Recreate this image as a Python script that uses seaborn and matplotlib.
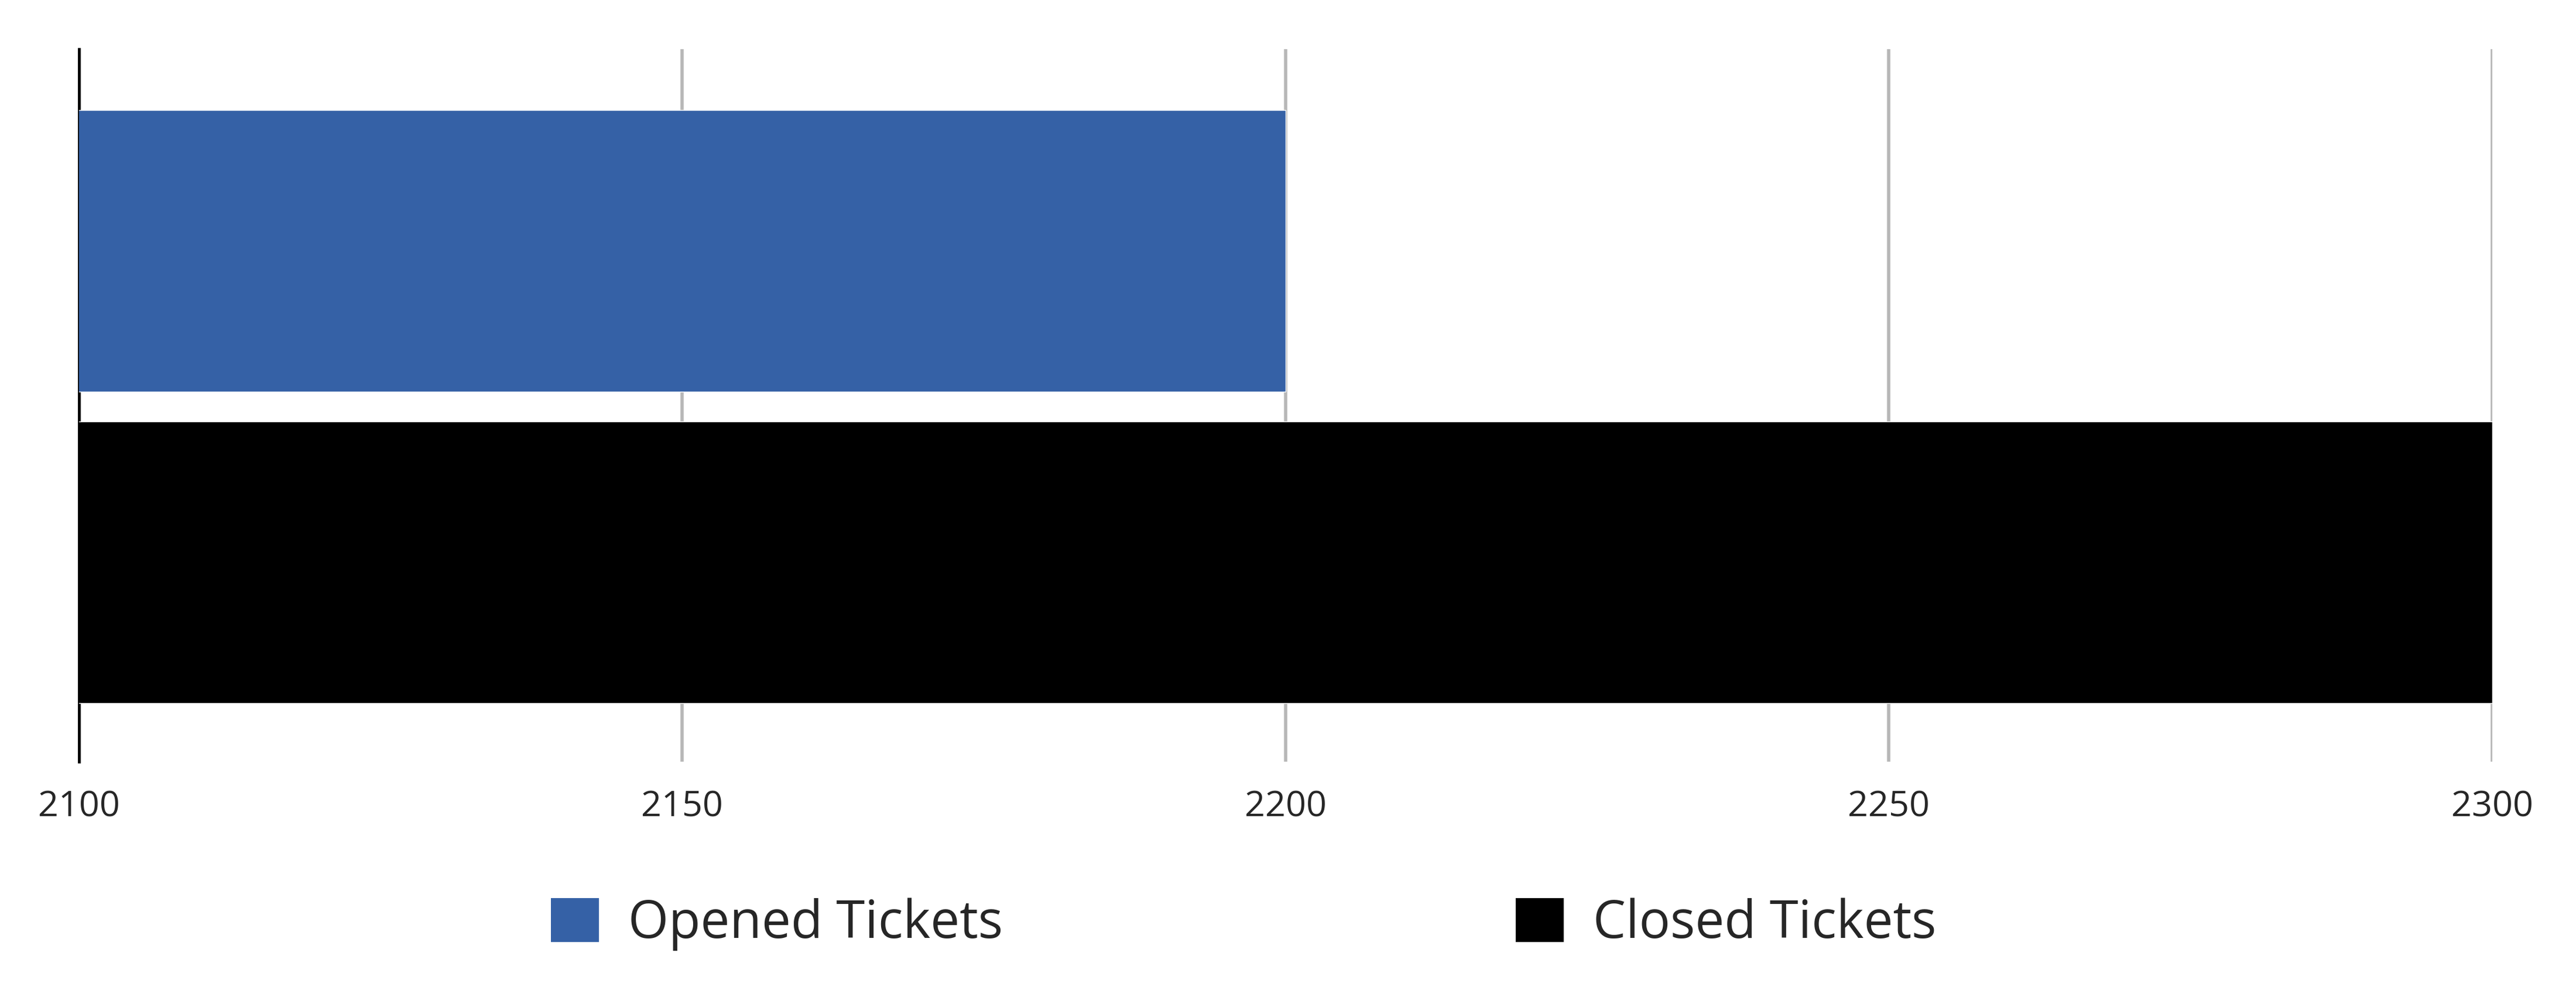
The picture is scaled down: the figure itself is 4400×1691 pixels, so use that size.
import matplotlib
matplotlib.use("Agg")
import matplotlib.pyplot as plt
import seaborn as sns
import pandas as pd
from matplotlib.patches import Patch

categories = ["Opened Tickets", "Closed Tickets"]
values = [2200, 2300]
colors = ["#3561a6", "#000000"]
x_ticks = [2100, 2150, 2200, 2250, 2300]

sns.set_style("white")
plt.rcParams["font.family"] = ["Open Sans", "DejaVu Sans"]

df = pd.DataFrame({"category": categories, "value": values})

fig = plt.figure(figsize=(44, 16.91), dpi=100)
ax = fig.add_axes([0.0306, 0.2305, 0.9369, 0.7197])

sns.barplot(data=df, y="category", x="value", hue="category",
            palette=dict(zip(categories, colors)), orient="h",
            width=0.905, ax=ax, legend=False, zorder=3, saturation=1)

ax.set_xlim(x_ticks[0], x_ticks[-1])
ax.set_ylim(1.64, -0.647)
ax.set_xticks(x_ticks)
ax.set_xticklabels([str(t) for t in x_ticks], fontsize=44)
ax.set_yticks([])
ax.set_xlabel("")
ax.set_ylabel("")
ax.tick_params(axis="x", length=0, pad=34)

ax.grid(axis="x", color="#b7b7b7", linewidth=4, zorder=0)
ax.set_axisbelow(True)
for s in ["top", "right", "bottom"]:
    ax.spines[s].set_visible(False)
ax.spines["left"].set_color("black")
ax.spines["left"].set_linewidth(3.5)

handles = [Patch(facecolor=c, edgecolor="none", label=l) for c, l in zip(colors, categories)]
fig.legend(handles=handles, loc="center", bbox_to_anchor=(0.4828, 0.0665), ncol=2,
           frameon=False, fontsize=64, handlelength=0.92, handleheight=0.92,
           handletextpad=0.57, columnspacing=9.85)

fig.savefig("out.png", dpi=100)
